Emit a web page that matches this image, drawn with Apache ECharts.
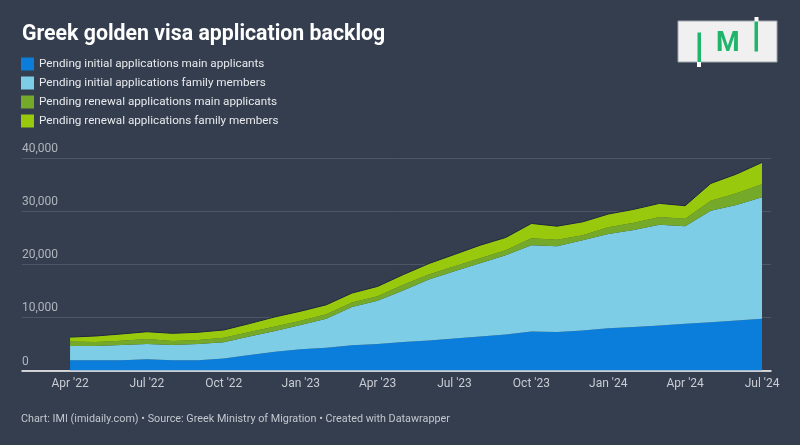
<!DOCTYPE html>
<html><head><meta charset="utf-8">
<script src="https://cdn.jsdelivr.net/npm/echarts@6/dist/echarts.min.js"></script>
<style>html,body{margin:0;padding:0;background:#343e4f;}#c{width:800px;height:445px;}</style>
</head><body><div id="c"></div>
<script>
const months = ['2022-04','2022-05','2022-06','2022-07','2022-08','2022-09','2022-10','2022-11','2022-12',
  '2023-01','2023-02','2023-03','2023-04','2023-05','2023-06','2023-07','2023-08','2023-09','2023-10','2023-11','2023-12',
  '2024-01','2024-02','2024-03','2024-04','2024-05','2024-06','2024-07'];
const initialMain = [1950,1950,1950,2100,1950,1950,2270,2900,3520,3980,4280,4730,4980,5360,5660,6040,6420,6790,7360,7230,7550,7970,8210,8460,8780,9100,9400,9720];
const initialFamily = [2650,2650,2840,2900,2840,3030,3030,3500,3920,4600,5440,7200,8140,9720,11450,12640,13770,14910,16220,16170,16980,17730,18240,18980,18360,20980,21750,22870];
const renewalMain = [850,760,820,940,760,760,870,850,820,800,880,870,840,1040,950,940,940,940,1300,1200,940,1250,1370,1450,1430,1870,2200,2450];
const renewalFamily = [840,1140,1270,1360,1450,1460,1460,1580,1840,1790,1770,1780,1870,1930,2070,2230,2450,2400,2800,2570,2510,2500,2520,2570,2450,3270,3620,4130];
const seriesNames = ['Pending initial applications main applicants','Pending initial applications family members','Pending renewal applications main applicants','Pending renewal applications family members'];
const tickMonths = ['2022-04','2022-07','2022-10','2023-01','2023-04','2023-07','2023-10','2024-01','2024-04','2024-07'];
const tickLabels = ["Apr '22","Jul '22","Oct '22","Jan '23","Apr '23","Jul '23","Oct '23","Jan '24","Apr '24","Jul '24"];
const yTicks = [0,10000,20000,30000,40000];

const tickIdx = tickMonths.map(m => months.indexOf(m));
const colors = ['#0b7dda','#7ecde7','#74a92a','#99c90c'];
const values = [initialMain, initialFamily, renewalMain, renewalFamily];

const chart = echarts.init(document.getElementById('c'));
chart.setOption({
  backgroundColor: '#343e4f',
  animation: false,
  textStyle: { fontFamily: 'Roboto' },
  title: [
    { text: 'Greek golden visa application backlog', left: 22, top: 24.5, padding: 0,
      textStyle: { color: '#ffffff', fontSize: 21.3, fontWeight: 'bold', fontFamily: 'Roboto' } },
    { text: 'Chart: IMI (imidaily.com) • Source: Greek Ministry of Migration • Created with Datawrapper', left: 21, top: 414, padding: 0,
      textStyle: { color: '#c3c7ce', fontSize: 10.8, fontWeight: 'normal', fontFamily: 'Roboto' } }
  ],
  legend: {
    orient: 'vertical', left: 21, top: 57.5, itemWidth: 13, itemHeight: 13, itemGap: 6, padding: 0,
    icon: 'rect', selectedMode: false,
    textStyle: { color: '#e8eaed', fontSize: 11.7, fontFamily: 'Roboto' },
    data: seriesNames
  },
  grid: { left: 22, right: 29, top: 158, bottom: 74.5, containLabel: false },
  xAxis: {
    type: 'value', min: -1.875, max: 27.35,
    axisLine: { show: true, lineStyle: { color: '#ffffff', width: 1.5 } },
    axisTick: { show: false },
    splitLine: { show: false },
    axisLabel: {
      customValues: tickIdx,
      color: '#c9cdd3', fontSize: 12, margin: 7,
      formatter: v => { const i = tickIdx.indexOf(Math.round(v)); return i >= 0 ? tickLabels[i] : ''; }
    }
  },
  yAxis: {
    type: 'value', min: 0, max: 40000, interval: 10000,
    axisLine: { show: false }, axisTick: { show: false },
    splitLine: { lineStyle: { color: '#4c5667', width: 1 } },
    axisLabel: {
      inside: true, margin: 0, verticalAlign: 'bottom', padding: [0,0,3,0],
      color: '#b0b5bd', fontSize: 12,
      formatter: v => yTicks.includes(v) ? v.toLocaleString('en-US') : ''
    }
  },
  series: values.map((arr, s) => ({
    name: seriesNames[s], type: 'line', stack: 'total', symbol: 'none', smooth: false,
    color: colors[s],
    lineStyle: s === 3 ? { width: 1, color: '#1f2742' } : { width: 0 },
    areaStyle: { color: colors[s], opacity: 1 },
    encode: { x: 1, y: 0 },
    data: months.map((m, i) => [arr[i], i]),
    z: 2
  })),
  graphic: [
    { type: 'rect', shape: { x: 678, y: 21, width: 99, height: 41 }, style: { fill: '#f0f0f0', stroke: '#a0a6ae', lineWidth: 1 } },
    { type: 'rect', shape: { x: 697, y: 61, width: 4, height: 6 }, style: { fill: '#ffffff' } },
    { type: 'rect', shape: { x: 697.5, y: 32.5, width: 3.5, height: 29.5 }, style: { fill: '#21b46c' } },
    { type: 'rect', shape: { x: 754.5, y: 17, width: 4, height: 5 }, style: { fill: '#ffffff' } },
    { type: 'rect', shape: { x: 754.5, y: 21.5, width: 3.5, height: 30 }, style: { fill: '#21b46c' } },
    { type: 'text', left: 716, top: 31, style: { text: 'M', fill: '#21b46c', font: 'bold 27px Roboto' } }
  ]
});
</script>
</body></html>
